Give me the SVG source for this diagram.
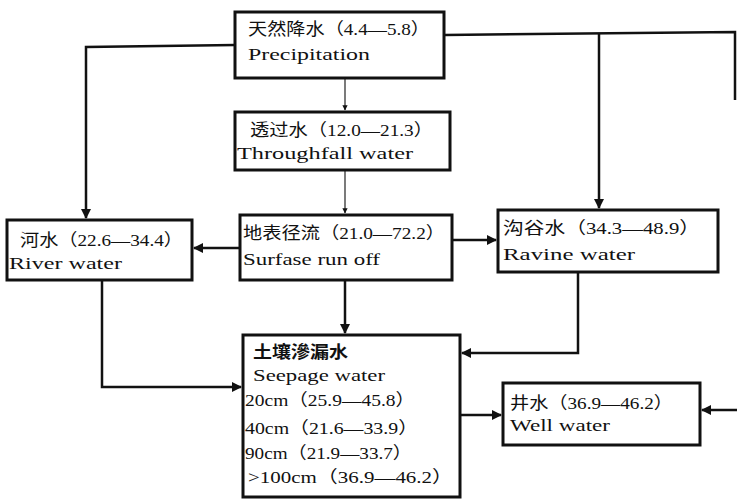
<svg xmlns="http://www.w3.org/2000/svg" width="737" height="501" viewBox="0 0 737 501">
<style>
.box{fill:#fff;stroke:#111;stroke-width:3}
.t{font-family:"Liberation Serif","Noto Sans CJK SC",serif;font-size:17px;fill:#111}
.c{fill:none;stroke:#111;stroke-width:2.5}
.thin{fill:none;stroke:#333;stroke-width:1.3}
</style>
<defs>
<marker id="ah" viewBox="0 0 10 10" refX="9" refY="5" markerWidth="4" markerHeight="4" orient="auto" markerUnits="strokeWidth">
<path d="M0,0 L10,5 L0,10 Z" fill="#111"/>
</marker>
</defs>
<rect width="737" height="501" fill="#fff"/>
<g id="connectors">
<polyline class="c" points="235,45 86,47 86,218" marker-end="url(#ah)"/>
<polyline class="c" points="445,35 735,32 735,100"/>
<line class="c" x1="599" y1="34" x2="599" y2="208" marker-end="url(#ah)"/>
<line class="thin" x1="345" y1="78" x2="345" y2="110" marker-end="url(#ah)"/>
<line class="thin" x1="345" y1="170" x2="345" y2="213" marker-end="url(#ah)"/>
<line class="c" x1="240" y1="248" x2="194" y2="248" marker-end="url(#ah)"/>
<line class="c" x1="452" y1="240" x2="496" y2="240" marker-end="url(#ah)"/>
<line class="c" x1="345" y1="280" x2="345" y2="333" marker-end="url(#ah)"/>
<polyline class="c" points="578,272 578,353 462,353" marker-end="url(#ah)"/>
<polyline class="c" points="102,280 102,387 241,387" marker-end="url(#ah)"/>
<line class="c" x1="460" y1="415" x2="501" y2="415" marker-end="url(#ah)"/>
<line class="c" x1="737" y1="410" x2="702" y2="410" marker-end="url(#ah)"/>
</g>
<g id="precipitation">
<rect class="box" x="235" y="12" width="209" height="66"/>
<text class="t" x="248" y="35" textLength="182" lengthAdjust="spacingAndGlyphs">天然降水（4.4—5.8）</text>
<text class="t" x="248" y="60" textLength="122" lengthAdjust="spacingAndGlyphs">Precipitation</text>
</g>
<g id="throughfall">
<rect class="box" x="235" y="112" width="215" height="58"/>
<text class="t" x="250" y="136" textLength="183" lengthAdjust="spacingAndGlyphs">透过水（12.0—21.3）</text>
<text class="t" x="237" y="159" textLength="176" lengthAdjust="spacingAndGlyphs">Throughfall water</text>
</g>
<g id="surface">
<rect class="box" x="240" y="215" width="212" height="65"/>
<text class="t" x="243" y="239" textLength="202" lengthAdjust="spacingAndGlyphs">地表径流（21.0—72.2）</text>
<text class="t" x="243" y="265" textLength="137" lengthAdjust="spacingAndGlyphs">Surfase run off</text>
</g>
<g id="river">
<rect class="box" x="7" y="220" width="185" height="60"/>
<text class="t" x="20" y="246" textLength="163" lengthAdjust="spacingAndGlyphs">河水（22.6—34.4）</text>
<text class="t" x="9" y="269" textLength="113" lengthAdjust="spacingAndGlyphs">River water</text>
</g>
<g id="ravine">
<rect class="box" x="498" y="210" width="220" height="62"/>
<text class="t" x="503" y="234" textLength="197" lengthAdjust="spacingAndGlyphs">沟谷水（34.3—48.9）</text>
<text class="t" x="503" y="260" textLength="132" lengthAdjust="spacingAndGlyphs">Ravine water</text>
</g>
<g id="seepage">
<rect class="box" x="243" y="335" width="217" height="162"/>
<text class="t" x="253" y="358" textLength="95" lengthAdjust="spacingAndGlyphs" font-weight="bold">土壤滲漏水</text>
<text class="t" x="253" y="381" textLength="132" lengthAdjust="spacingAndGlyphs">Seepage water</text>
<text class="t" x="245" y="406" textLength="170" lengthAdjust="spacingAndGlyphs">20cm（25.9—45.8）</text>
<text class="t" x="245" y="434" textLength="173" lengthAdjust="spacingAndGlyphs">40cm（21.6—33.9）</text>
<text class="t" x="245" y="459" textLength="167" lengthAdjust="spacingAndGlyphs">90cm（21.9—33.7）</text>
<text class="t" x="248" y="483" textLength="205" lengthAdjust="spacingAndGlyphs">&gt;100cm（36.9—46.2）</text>
</g>
<g id="well">
<rect class="box" x="503" y="383" width="197" height="62"/>
<text class="t" x="510" y="409" textLength="163" lengthAdjust="spacingAndGlyphs">井水（36.9—46.2）</text>
<text class="t" x="510" y="431" textLength="100" lengthAdjust="spacingAndGlyphs">Well water</text>
</g>
</svg>
